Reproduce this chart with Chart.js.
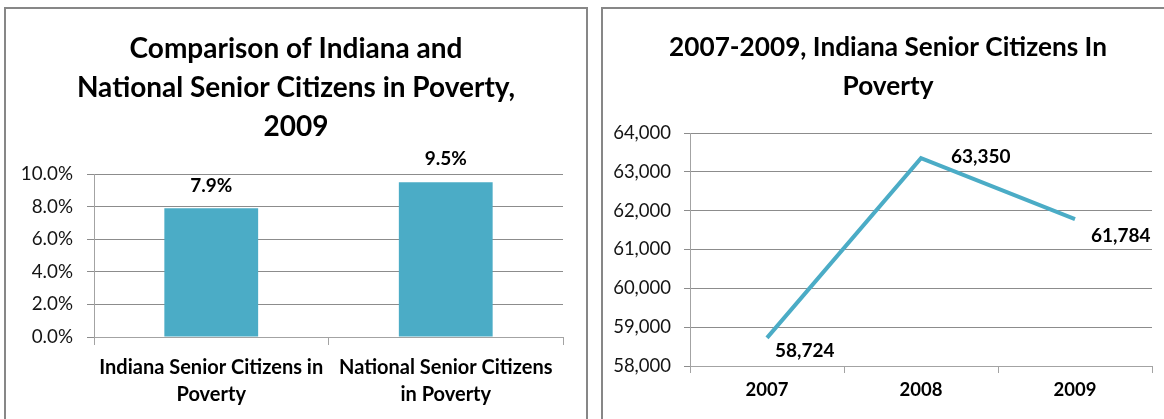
<!DOCTYPE html>
<html>
<head>
<meta charset="utf-8">
<title>Indiana Senior Citizens in Poverty</title>
<script src="https://cdn.jsdelivr.net/npm/chart.js@4.4.1/dist/chart.umd.min.js"></script>
<style>
  html, body { margin: 0; padding: 0; background: #fff; width: 1164px; height: 419px; overflow: hidden; }
  .box { position: absolute; border: 2px solid #878787; background: #fff; overflow: hidden; }
  #boxA { left: 4px; top: 7px; width: 580px; height: 430px; }
  #boxB { left: 601px; top: 7px; width: 570px; height: 430px; }
  canvas { display: block; }
</style>
</head>
<body>
<div class="box" id="boxA"><canvas id="povertyCompare" width="580" height="430"></canvas></div>
<div class="box" id="boxB"><canvas id="povertyTrend" width="570" height="430"></canvas></div>
<script>
// Share of senior citizens in poverty, 2009
const compareCategories = [
  ['Indiana Senior Citizens in', 'Poverty'],
  ['National Senior Citizens', 'in Poverty']
];
const compareRates = [0.079, 0.095];
const compareTitle = ['Comparison of Indiana and', 'National Senior Citizens in Poverty,', '2009'];

// Indiana senior citizens in poverty, counts by year
const trendYears = ['2007', '2008', '2009'];
const trendCounts = [58724, 63350, 61784];
const trendTitle = ['2007-2009, Indiana Senior Citizens In', 'Poverty'];

const ACCENT = '#4BACC6';
const GRID = '#8c8c8c';
const AXIS = '#a3a3a3';
const FONT = 'Lato, "Open Sans", "DejaVu Sans", sans-serif';

const fmtPct = v => (v * 100).toFixed(1) + '%';
const fmtNum = v => v.toLocaleString('en-US');

// Draws each point's value next to its mark
function valueLabels(format, offsets) {
  return {
    id: 'valueLabels',
    afterDatasetsDraw(chart) {
      const ctx = chart.ctx;
      const meta = chart.getDatasetMeta(0);
      const data = chart.data.datasets[0].data;
      ctx.save();
      ctx.font = 'bold 19px ' + FONT;
      ctx.fillStyle = '#000';
      ctx.textBaseline = 'middle';
      meta.data.forEach((el, i) => {
        const o = offsets[i];
        ctx.textAlign = o.align;
        ctx.fillText(format(data[i]), el.x + o.dx, el.y + o.dy);
      });
      ctx.restore();
    }
  };
}

// Blank right-hand margin so the title stays centred on the whole canvas
function rightGutter(width) {
  return {
    position: 'right',
    display: true,
    grid: { display: false },
    border: { display: false },
    ticks: { display: false },
    afterFit(s) { s.width = width; }
  };
}

Chart.defaults.font.family = FONT;
Chart.defaults.color = '#141414';

new Chart(document.getElementById('povertyCompare'), {
  type: 'bar',
  data: {
    labels: compareCategories,
    datasets: [{
      data: compareRates,
      backgroundColor: ACCENT,
      borderWidth: 0,
      barPercentage: 0.4,
      categoryPercentage: 1
    }]
  },
  options: {
    responsive: false,
    animation: false,
    devicePixelRatio: 1,
    layout: { padding: 0 },
    plugins: {
      legend: { display: false },
      tooltip: { enabled: false },
      title: {
        display: true,
        text: compareTitle,
        color: '#000',
        font: { size: 28, weight: 'bold', lineHeight: '39px' },
        padding: { top: 20.5, bottom: 27.5 }
      }
    },
    scales: {
      x: {
        offset: true,
        grid: { offset: true, drawOnChartArea: false, drawTicks: true, tickLength: 8, color: AXIS },
        border: { color: AXIS, width: 1 },
        ticks: { padding: 9.5, color: '#000', maxRotation: 0, autoSkip: false,
                 font: { size: 20, weight: 'bold', lineHeight: '27px' } },
        afterFit(s) { s.height = 102; }
      },
      y: {
        min: 0, max: 0.1,
        grid: { color: GRID, tickLength: 7, drawTicks: true },
        border: { color: AXIS, width: 1 },
        ticks: { stepSize: 0.02, padding: 14, font: { size: 18.8 }, callback: v => fmtPct(v) },
        afterFit(s) { s.width = 88; }
      },
      gutter: rightGutter(23)
    }
  },
  plugins: [valueLabels(fmtPct, [
    { align: 'center', dx: 0, dy: -22 },
    { align: 'center', dx: 0, dy: -23 }
  ])]
});

new Chart(document.getElementById('povertyTrend'), {
  type: 'line',
  data: {
    labels: trendYears,
    datasets: [{
      data: trendCounts,
      borderColor: ACCENT,
      borderWidth: 4,
      pointRadius: 0,
      tension: 0,
      borderJoinStyle: 'miter',
      borderCapStyle: 'butt',
      fill: false
    }]
  },
  options: {
    responsive: false,
    animation: false,
    devicePixelRatio: 1,
    layout: { padding: 0 },
    plugins: {
      legend: { display: false },
      tooltip: { enabled: false },
      title: {
        display: true,
        text: trendTitle,
        color: '#000',
        font: { size: 26.2, weight: 'bold', lineHeight: '39px' },
        padding: { top: 19.5, bottom: 26.5 }
      }
    },
    scales: {
      x: {
        offset: true,
        grid: { offset: true, drawOnChartArea: false, drawTicks: true, tickLength: 7, color: AXIS },
        border: { color: AXIS, width: 1 },
        ticks: { padding: 7, color: '#000', font: { size: 18.5, weight: 'bold', lineHeight: '21px' } },
        afterFit(s) { s.height = 73; }
      },
      y: {
        min: 58000, max: 64000,
        grid: { color: GRID, tickLength: 6, drawTicks: true },
        border: { color: AXIS, width: 1 },
        ticks: { stepSize: 1000, padding: 13, font: { size: 18.5 }, callback: v => fmtNum(v) },
        afterFit(s) { s.width = 87; }
      },
      gutter: rightGutter(21)
    }
  },
  plugins: [valueLabels(fmtNum, [
    { align: 'left', dx: 8, dy: 13 },
    { align: 'left', dx: 30, dy: -1 },
    { align: 'left', dx: 16, dy: 17 }
  ])]
});
</script>
</body>
</html>
